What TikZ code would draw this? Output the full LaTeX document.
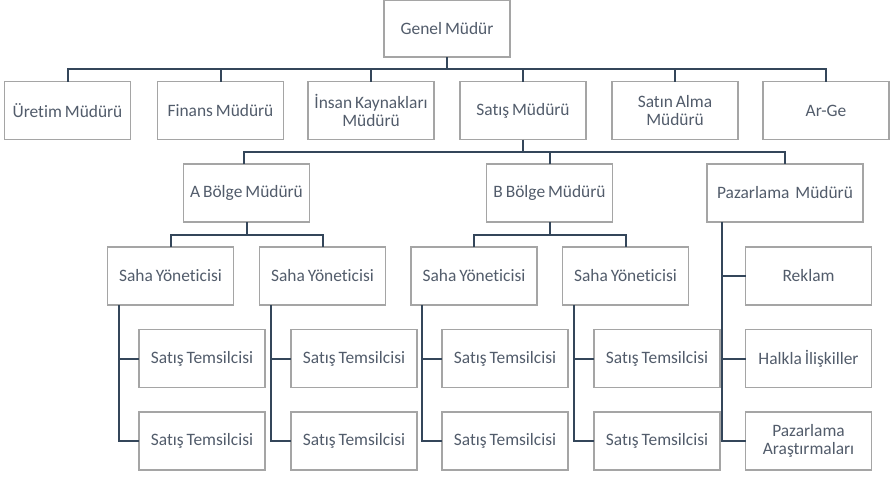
\documentclass[tikz,border=0pt]{standalone}
\usepackage{fontspec}
\setmainfont{Carlito}[Ligatures=NoCommon, WordSpace=0.75]
\usetikzlibrary{calc}
\definecolor{boxline}{HTML}{A5A5A5}
\definecolor{linkcol}{HTML}{34465A}
\definecolor{txt}{HTML}{525C6B}
\begin{document}
\begin{tikzpicture}[x=1pt,y=-1pt,
  box/.style={draw=boxline, line width=1.2pt, fill=white, rectangle,
    inner sep=0pt, outer sep=0pt, minimum height=58pt, minimum width=126pt,
    text=txt, align=center, font=\fontsize{17.4}{18.5}\selectfont},
  wide/.style={minimum width=156pt},
  link/.style={draw=linkcol, line width=2pt}]
\useasboundingbox (0,0) rectangle (890,479);

% top level
\node[box, minimum height=57pt] (gm) at (447,28.5) {Genel Müdür};

% department heads
\node[box] (ure)   at (67.5,110.5)  {Üretim Müdürü};
\node[box] (fin)   at (220.5,110.5) {Finans Müdürü};
\node[box] (ik)    at (371,110.5)   {İnsan Kaynakları\\Müdürü};
\node[box] (sat)   at (523,110.5)   {Satış Müdürü};
\node[box] (satin) at (675,110.5)   {Satın Alma\\Müdürü};
\node[box] (arge)  at (826,110.5)   {Ar-Ge};

% sales regions and marketing
\node[box] (ab) at (246.5,193) {A Bölge Müdürü};
\node[box] (bb) at (549.5,193) {B Bölge Müdürü};
\node[box, wide] (pz) at (785,193) {Pazarlama\ \ Müdürü};

% field managers
\node[box] (s1) at (170.5,276) {Saha Yöneticisi};
\node[box] (s2) at (322.5,276) {Saha Yöneticisi};
\node[box] (s3) at (474,276)   {Saha Yöneticisi};
\node[box] (s4) at (625.5,276) {Saha Yöneticisi};
\node[box] (rk) at (808.5,276) {Reklam};

% sales representatives
\node[box] (t1a) at (202,358.5) {Satış Temsilcisi};
\node[box] (t1b) at (202,441)   {Satış Temsilcisi};
\node[box] (t2a) at (354,358.5) {Satış Temsilcisi};
\node[box] (t2b) at (354,441)   {Satış Temsilcisi};
\node[box] (t3a) at (505,358.5) {Satış Temsilcisi};
\node[box] (t3b) at (505,441)   {Satış Temsilcisi};
\node[box] (t4a) at (657,358.5) {Satış Temsilcisi};
\node[box] (t4b) at (657,441)   {Satış Temsilcisi};
\node[box] (hi)  at (808.5,358.5) {Halkla İlişkiller};
\node[box] (pa)  at (808.5,441)   {Pazarlama\\Araştırmaları};

% bus lines
\coordinate (bus1) at (0,69);
\coordinate (bus2) at (0,152);
\coordinate (bus3) at (0,235);

\draw[link] (gm.south) -- (gm.south |- bus1);
\draw[link] (ure.north) -- (ure.north |- bus1) -- (arge.north |- bus1) -- (arge.north);
\foreach \n in {fin,ik,sat,satin} \draw[link] (\n.north) -- (\n.north |- bus1);

\draw[link] (sat.south) -- (sat.south |- bus2);
\draw[link] ([xshift=-2.5pt]ab.north) -- ([xshift=-2.5pt]ab.north |- bus2) -- (pz.north |- bus2) -- (pz.north);
\draw[link] (bb.north) -- (bb.north |- bus2);

\draw[link] (ab.south) -- (ab.south |- bus3);
\draw[link] (s1.north) -- (s1.north |- bus3) -- (s2.north |- bus3) -- (s2.north);
\draw[link] (bb.south) -- (bb.south |- bus3);
\draw[link] (s3.north) -- (s3.north |- bus3) -- (s4.north |- bus3) -- (s4.north);

% side branches from each field manager to its representatives
\foreach \s/\a/\b in {s1/t1a/t1b, s2/t2a/t2b, s3/t3a/t3b, s4/t4a/t4b} {
  \draw[link] ([xshift=11pt]\s.south west) |- (\b.west);
  \draw[link] ([xshift=11pt]\s.south west |- \a.west) -- (\a.west);
}
\draw[link] ([xshift=15pt]pz.south west) |- (pa.west);
\draw[link] ([xshift=15pt]pz.south west |- rk.west) -- (rk.west);
\draw[link] ([xshift=15pt]pz.south west |- hi.west) -- (hi.west);
\end{tikzpicture}
\end{document}
